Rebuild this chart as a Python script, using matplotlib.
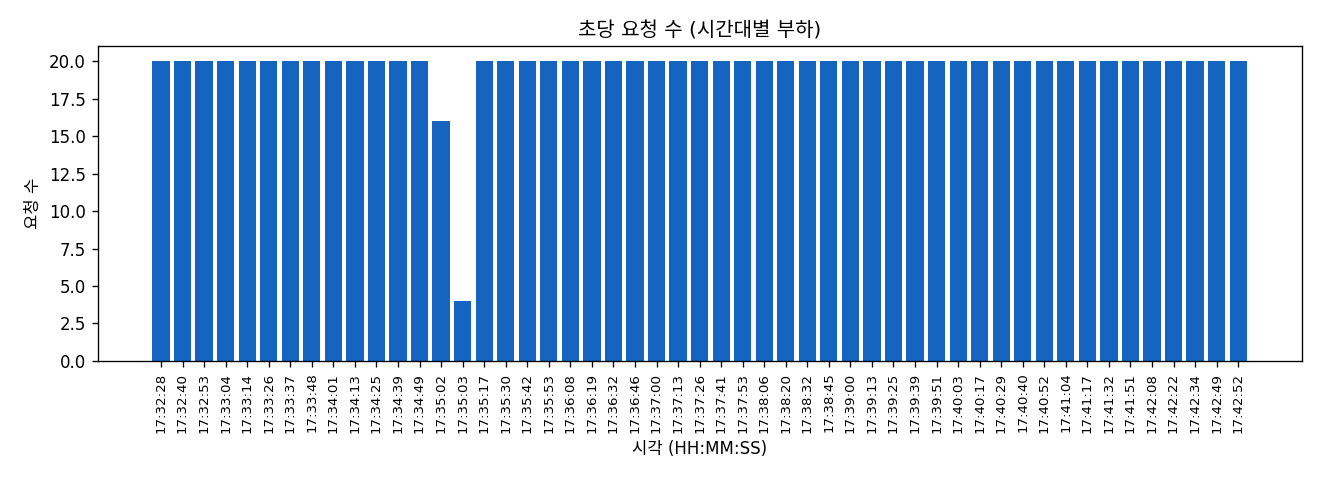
import matplotlib
matplotlib.use("Agg")
import matplotlib.pyplot as plt

plt.rcParams['font.family'] = ['DejaVu Sans', 'Noto Sans CJK KR']

# 초당 요청 수 (시각별)
times = [
    "17:32:28", "17:32:40", "17:32:53", "17:33:04", "17:33:14", "17:33:26",
    "17:33:37", "17:33:48", "17:34:01", "17:34:13", "17:34:25", "17:34:39",
    "17:34:49", "17:35:02", "17:35:03", "17:35:17", "17:35:30", "17:35:42",
    "17:35:53", "17:36:08", "17:36:19", "17:36:32", "17:36:46", "17:37:00",
    "17:37:13", "17:37:26", "17:37:41", "17:37:53", "17:38:06", "17:38:20",
    "17:38:32", "17:38:45", "17:39:00", "17:39:13", "17:39:25", "17:39:39",
    "17:39:51", "17:40:03", "17:40:17", "17:40:29", "17:40:40", "17:40:52",
    "17:41:04", "17:41:17", "17:41:32", "17:41:51", "17:42:08", "17:42:22",
    "17:42:34", "17:42:49", "17:42:52",
]
counts = [20] * 13 + [16, 4] + [20] * 36


def plot_rps(times, counts):
    fig, ax = plt.subplots(figsize=(11, 4), dpi=120)
    fig.subplots_adjust(left=0.074, right=0.986, top=0.904, bottom=0.248)

    ax.bar(times, counts, color="#1565c0")
    ax.set_title("초당 요청 수 (시간대별 부하)")
    ax.set_xlabel("시각 (HH:MM:SS)")
    ax.set_ylabel("요청 수")
    ax.tick_params(axis="x", labelrotation=90, labelsize=8)

    fig.savefig("out.png")


if __name__ == "__main__":
    plot_rps(times, counts)
